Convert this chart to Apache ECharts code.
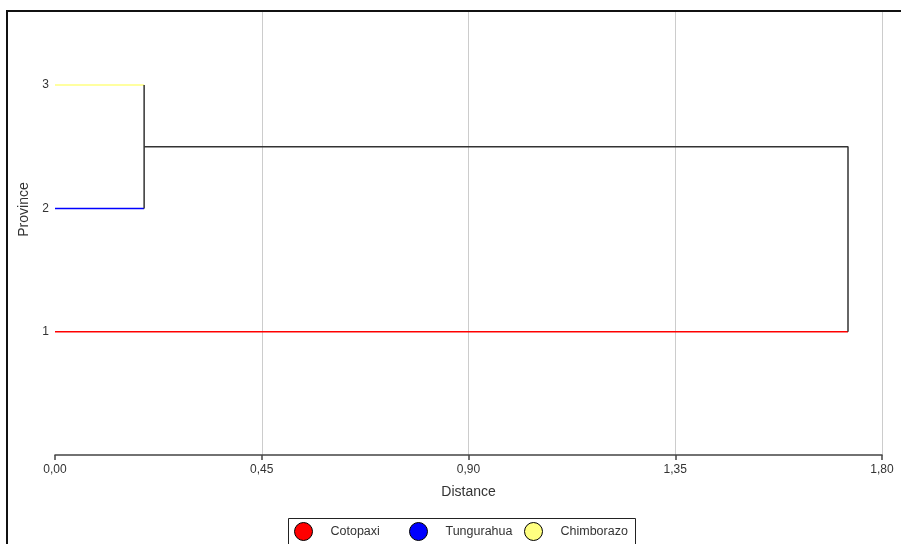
<!DOCTYPE html>
<html>
<head>
<meta charset="utf-8">
<style>
  html, body { margin: 0; padding: 0; background: #fff; }
  #chart { width: 901px; height: 544px; }
</style>
<script src="https://cdn.jsdelivr.net/npm/echarts@6/dist/echarts.min.js"></script>
</head>
<body>
<div id="chart"></div>
<script>
// Leaves of the dendrogram (bottom to top) and their colours
const provinces = ['Cotopaxi', 'Tungurahua', 'Chimborazo'];
const leafPositions = [1, 2, 3];
const leafColors = ['#ff0000', '#0000ff', '#ffff80'];

// Linkage distances: Tungurahua + Chimborazo join first, then Cotopaxi joins them
const firstMergeDistance = 0.194;
const finalMergeDistance = 1.726;

// Axis ticks
const distanceTicks = [0, 0.45, 0.90, 1.35, 1.80];
const provinceTicks = [1, 2, 3];

const FONT = '"Liberation Sans", Arial, sans-serif';
const LINK_COLOR = '#333333';

// Height at which each leaf meets its parent link
const leafJoin = [finalMergeDistance, firstMergeDistance, firstMergeDistance];
// Midpoint of the first cluster (where the final link attaches)
const clusterMid = (leafPositions[1] + leafPositions[2]) / 2;

const series = [];

// Leaf branches, one coloured series per province
provinces.forEach((name, i) => {
  series.push({
    name: name,
    type: 'line',
    data: [[0, leafPositions[i]], [leafJoin[i], leafPositions[i]]],
    symbol: 'none',
    color: leafColors[i],
    lineStyle: { color: leafColors[i], width: 1.5 },
    itemStyle: { color: leafColors[i], borderColor: '#000', borderWidth: 1 },
    animation: false,
    z: 3
  });
});

// Vertical link joining Tungurahua and Chimborazo
series.push({
  name: 'link1',
  type: 'line',
  data: [[firstMergeDistance, leafPositions[2]], [firstMergeDistance, leafPositions[1]]],
  symbol: 'none',
  lineStyle: { color: LINK_COLOR, width: 1.5 },
  animation: false,
  z: 4
});

// Final link from that cluster to Cotopaxi
series.push({
  name: 'link2',
  type: 'line',
  data: [
    [firstMergeDistance, clusterMid],
    [finalMergeDistance, clusterMid],
    [finalMergeDistance, leafPositions[0]]
  ],
  symbol: 'none',
  lineStyle: { color: LINK_COLOR, width: 1.5 },
  animation: false,
  z: 4
});

// Legend: one fixed-width column per province inside a shared box
const legendColumnLeft = [294, 409, 524];
const legends = provinces.map((p, i) => ({
  data: [{
    name: p,
    icon: 'circle',
    itemStyle: { color: leafColors[i], borderColor: '#000', borderWidth: 1 }
  }],
  left: legendColumnLeft[i],
  top: 522,
  padding: 0,
  itemWidth: 18,
  itemHeight: 18,
  selectedMode: false,
  textStyle: { color: '#333', fontSize: 12.5, fontFamily: FONT, padding: [0, 0, 0, 13] }
}));

const chart = echarts.init(document.getElementById('chart'), null, { renderer: 'canvas' });

chart.setOption({
  backgroundColor: '#ffffff',
  animation: false,
  textStyle: { fontFamily: FONT },
  grid: { left: 55, right: 19, top: 12, bottom: 89, containLabel: false },
  xAxis: {
    type: 'value',
    min: distanceTicks[0],
    max: distanceTicks[distanceTicks.length - 1],
    interval: distanceTicks[1] - distanceTicks[0],
    name: 'Distance',
    nameLocation: 'middle',
    nameGap: 30,
    nameTextStyle: { color: '#333', fontSize: 14, fontFamily: FONT },
    axisLine: { show: true, lineStyle: { color: '#444', width: 1.5 } },
    axisTick: { show: true, length: 5, inside: false, lineStyle: { color: '#444', width: 1.5 } },
    axisLabel: {
      color: '#333',
      fontSize: 12,
      fontFamily: FONT,
      margin: 9,
      formatter: v => v.toFixed(2).replace('.', ',')
    },
    splitLine: {
      show: true,
      lineStyle: { color: ['rgba(0,0,0,0)', '#cccccc', '#cccccc', '#cccccc', '#cccccc'], width: 1 }
    }
  },
  yAxis: {
    type: 'value',
    min: 0,
    max: 3.593,
    interval: 1,
    name: 'Province',
    nameLocation: 'middle',
    nameGap: 18,
    nameRotate: 90,
    nameTextStyle: { color: '#333', fontSize: 14, fontFamily: FONT, padding: [0, 0, 0, 48] },
    axisLine: { show: false },
    axisTick: { show: false },
    splitLine: { show: false },
    axisLabel: {
      color: '#333',
      fontSize: 12,
      fontFamily: FONT,
      margin: 6,
      showMinLabel: false,
      showMaxLabel: false,
      formatter: v => (provinceTicks.indexOf(v) >= 0 ? String(v) : '')
    }
  },
  legend: legends,
  graphic: [
    {
      // legend box
      type: 'rect',
      shape: { x: 288.5, y: 518.5, width: 347, height: 40 },
      style: { fill: 'none', stroke: '#222', lineWidth: 1 },
      silent: true
    },
    {
      // figure frame
      type: 'rect',
      shape: { x: 7, y: 11, width: 1000, height: 1000 },
      style: { fill: 'none', stroke: '#111', lineWidth: 2 },
      silent: true,
      z: 10
    }
  ],
  series: series
});
</script>
</body>
</html>
